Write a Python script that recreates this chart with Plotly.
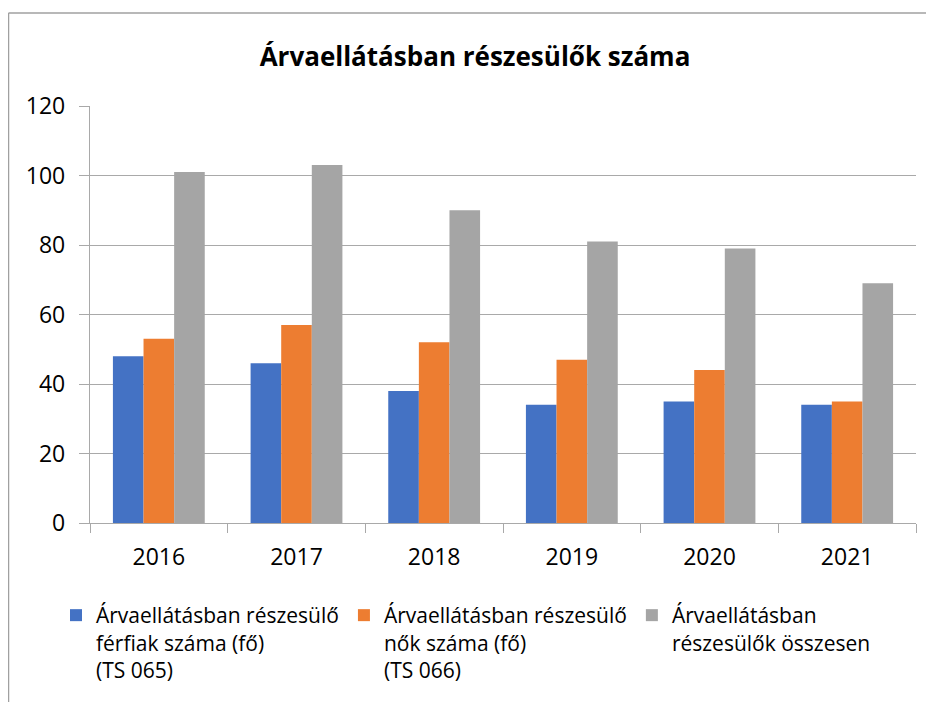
import plotly.graph_objects as go

years = ["2016", "2017", "2018", "2019", "2020", "2021"]
ferfiak = [48, 46, 38, 34, 35, 34]
nok = [53, 57, 52, 47, 44, 35]
osszesen = [101, 103, 90, 81, 79, 69]

series_names = [
    "Árvaellátásban részesülő<br>férfiak száma (fő)<br>(TS 065)",
    "Árvaellátásban részesülő<br>nők száma (fő)<br>(TS 066)",
    "Árvaellátásban<br>részesülők összesen",
]
colors = ["#4472C4", "#ED7D31", "#A5A5A5"]
title_text = "Árvaellátásban részesülők száma"

# page body has an 8px margin, so the figure is sized to fit the window
W, H = 926, 694
L, R, T, B = 82, 18, 98, 179
pw, ph = W - L - R, H - T - B

fig = go.Figure()
for name, vals, col in zip(series_names, [ferfiak, nok, osszesen], colors):
    fig.add_trace(go.Bar(x=years, y=vals, name=name,
                         marker=dict(color=col, line=dict(width=0))))

def px_x(p):
    return (p - L) / pw

def px_y(p):
    return (H - B - p) / ph

grid = "#A9A9A9"
border = "#A0A0A0"
fig.update_layout(
    width=W, height=H,
    margin=dict(l=L, r=R, t=T, b=B),
    paper_bgcolor="white", plot_bgcolor="white",
    font=dict(family="Open Sans", color="#000000"),
    title=dict(text="<b>" + title_text + "</b>", x=467 / W, xref="container",
               xanchor="center", y=1 - 49 / H, yref="container", yanchor="middle",
               font=dict(size=26, color="#000000")),
    barmode="group", bargap=0.333, bargroupgap=0,
    showlegend=True,
    legend=dict(orientation="h", xref="container", yref="container",
                x=48 / W, xanchor="left", y=1 - 587 / H, yanchor="top",
                font=dict(size=21, color="#000000"), itemwidth=30,
                valign="top", traceorder="normal", itemclick=False),
    xaxis=dict(type="category", showline=True, linecolor=grid, linewidth=1.3,
               ticks="outside", ticklen=9, tickcolor=grid, tickwidth=1.3,
               tickson="boundaries", showgrid=False,
               tickfont=dict(size=23, color="#000000"), ticklabelstandoff=13),
    yaxis=dict(range=[0, 120], dtick=20, showline=True, linecolor=grid, linewidth=1.3,
               ticks="outside", ticklen=10, tickcolor=grid, tickwidth=1.3,
               showgrid=True, gridcolor=grid, gridwidth=1.3, zeroline=False,
               tickfont=dict(size=23, color="#000000"), ticklabelstandoff=9),
    shapes=[
        dict(type="line", xref="paper", yref="paper", x0=px_x(0.5), x1=px_x(W),
             y0=px_y(5), y1=px_y(5), line=dict(color=border, width=1.5)),
        dict(type="line", xref="paper", yref="paper", x0=px_x(0.5), x1=px_x(0.5),
             y0=px_y(5), y1=px_y(H), line=dict(color=border, width=1.5)),
    ],
)

fig.write_html("out.html")
